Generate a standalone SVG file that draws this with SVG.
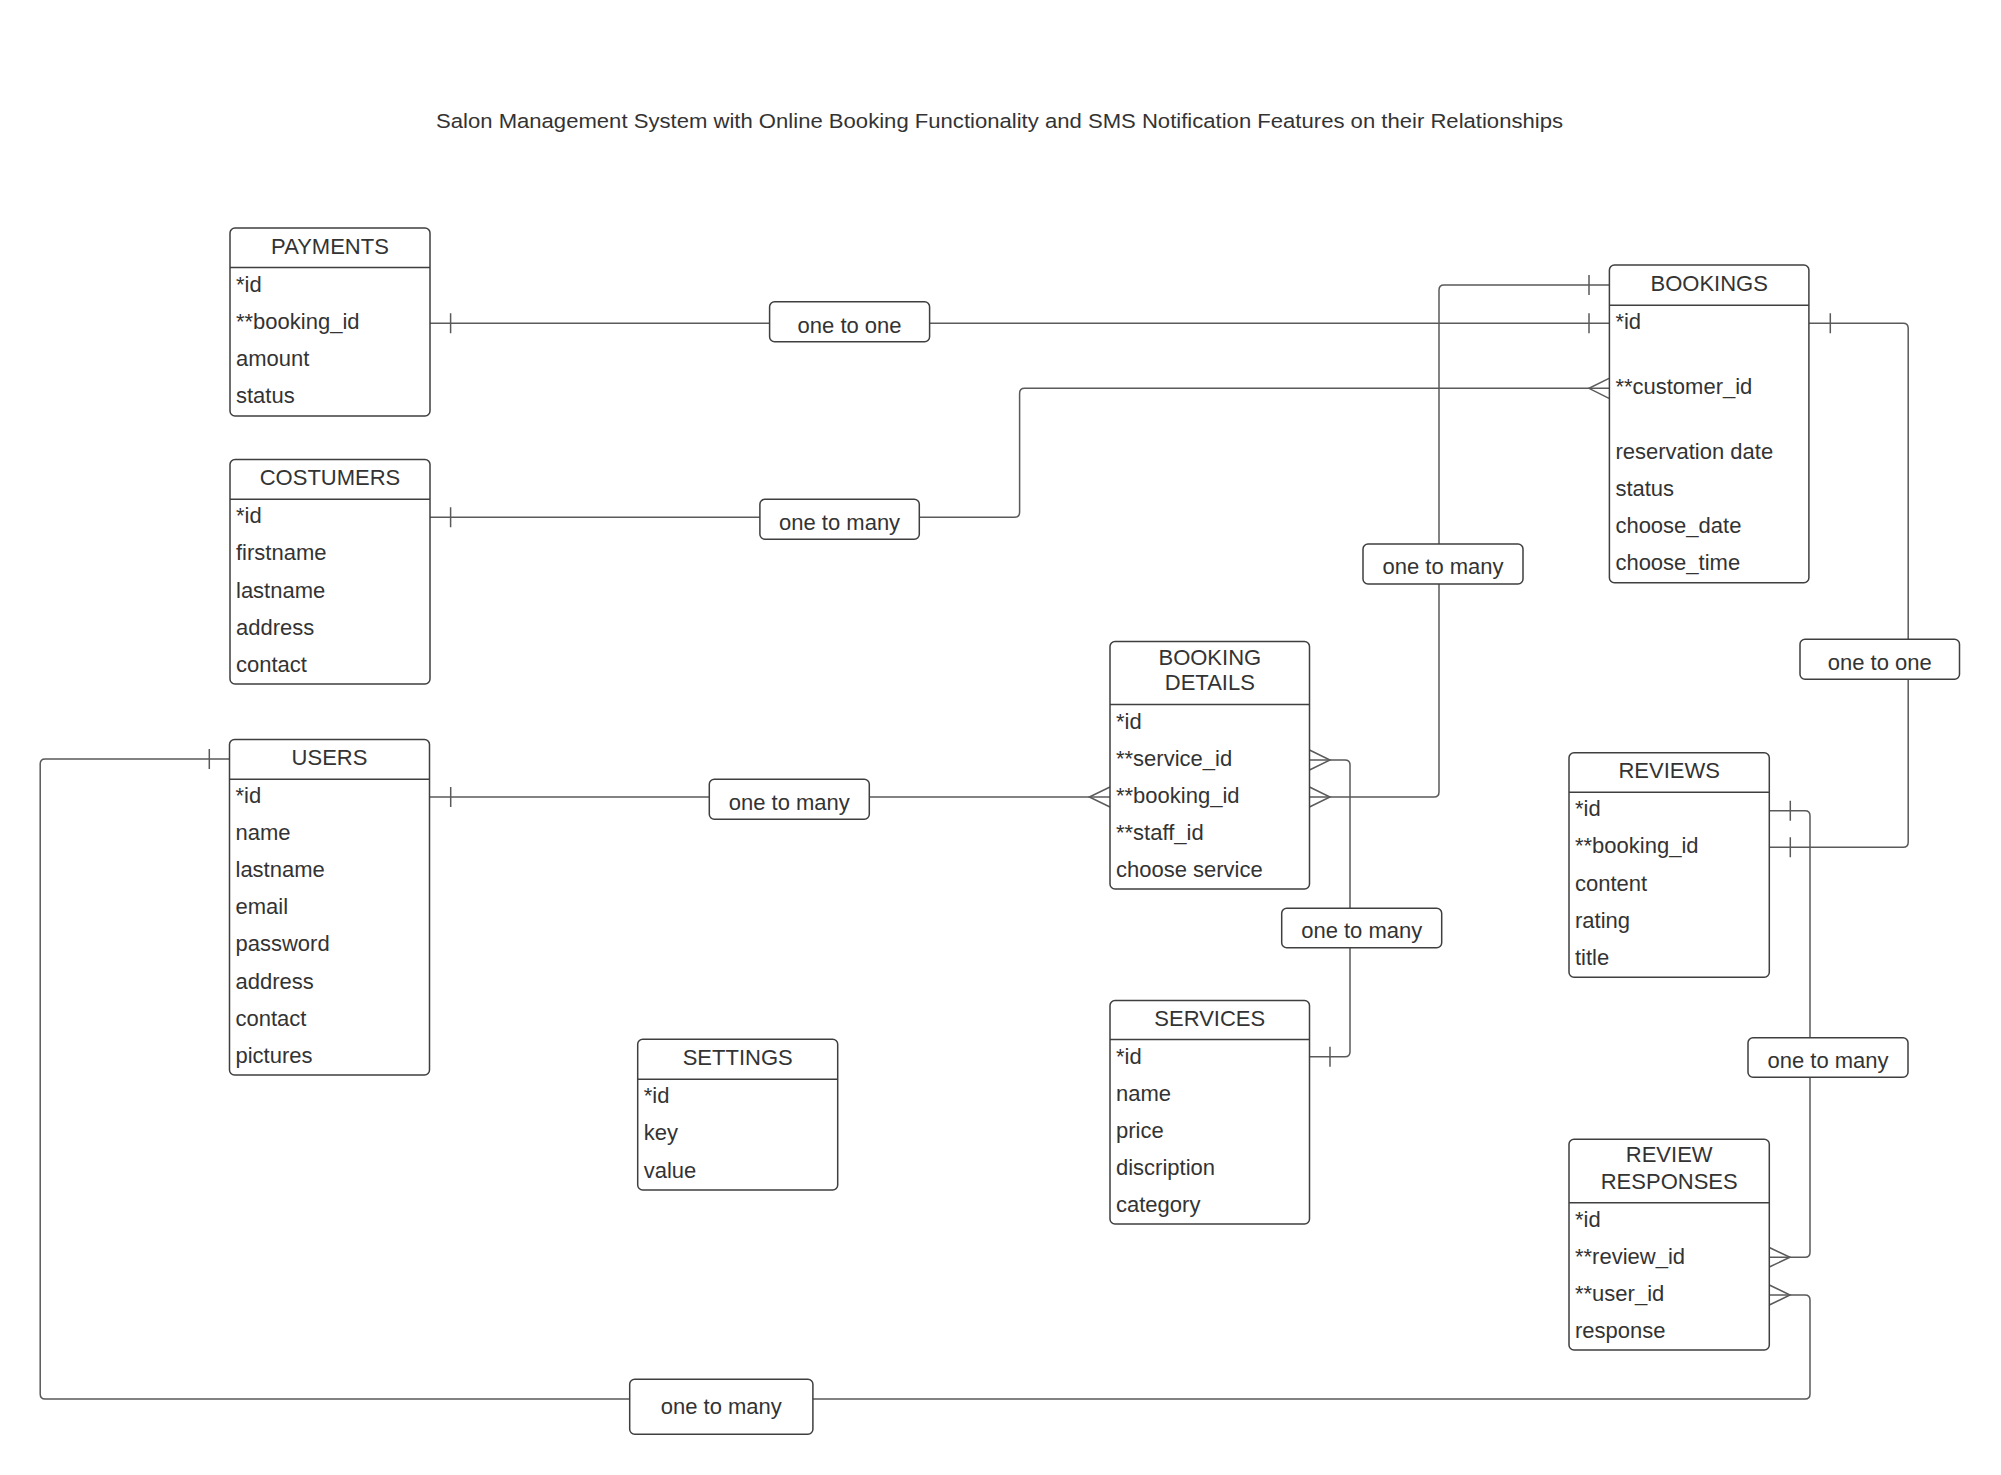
<svg xmlns="http://www.w3.org/2000/svg" width="2001" height="1475" viewBox="0 0 2001 1475">
<style>
  .bg{fill:#ffffff}
  .box{fill:#ffffff;stroke:#3f3f3f;stroke-width:1.5}
  .div{stroke:#3f3f3f;stroke-width:1.5}
  .hdr{font-family:"Liberation Sans",Arial,sans-serif;font-size:22px;fill:#333333;text-anchor:middle}
  .row{font-family:"Liberation Sans",Arial,sans-serif;font-size:22px;fill:#333333}
  .conn{fill:none;stroke:#5a5a5a;stroke-width:1.5}
  .lblbox{fill:#ffffff;stroke:#3f3f3f;stroke-width:1.5}
  .lbl{font-family:"Liberation Sans",Arial,sans-serif;font-size:22px;fill:#333333;text-anchor:middle}
  .title{font-family:"Liberation Sans",Arial,sans-serif;font-size:20.5px;fill:#333333;text-anchor:middle}
</style>
<rect class="bg" x="0" y="0" width="2001" height="1475"/>
<text class="title" x="999.5" y="127.5" textLength="1127" lengthAdjust="spacingAndGlyphs">Salon Management System with Online Booking Functionality and SMS Notification Features on their Relationships</text>

<g id="connectors">
  <!-- A: payments - bookings -->
  <path class="conn" d="M430,323.3 H1609"/>
  <path class="conn" d="M450.6,313.3 V333.3 M1589,313.3 V333.3"/>
  <!-- B: costumers - bookings -->
  <path class="conn" d="M430,517.3 H1014.6 Q1019.6,517.3 1019.6,512.3 V393.3 Q1019.6,388.3 1024.6,388.3 H1609"/>
  <path class="conn" d="M450.6,507.3 V527.3 M1609,378.3 L1589,388.3 L1609,398.3"/>
  <!-- C: users - booking details -->
  <path class="conn" d="M429.7,797 H1110"/>
  <path class="conn" d="M450.7,787 V807 M1110,787 L1089.3,797 L1110,807"/>
  <!-- D: booking details - services -->
  <path class="conn" d="M1309.5,760 H1345 Q1350,760 1350,765 V1051.7 Q1350,1056.7 1345,1056.7 H1309.5"/>
  <path class="conn" d="M1309.5,750 L1330,760 L1309.5,770 M1330,1046.7 V1066.7"/>
  <!-- E: booking details - bookings -->
  <path class="conn" d="M1309.5,797 H1434 Q1439,797 1439,792 V290 Q1439,285 1444,285 H1609"/>
  <path class="conn" d="M1309.5,787 L1330,797 L1309.5,807 M1589,275 V295"/>
  <!-- F: bookings - reviews -->
  <path class="conn" d="M1809,323.3 H1903.2 Q1908.2,323.3 1908.2,328.3 V842.3 Q1908.2,847.3 1903.2,847.3 H1769.3"/>
  <path class="conn" d="M1830.3,313.3 V333.3 M1790.3,837.3 V857.3"/>
  <!-- G: reviews - review responses -->
  <path class="conn" d="M1769.3,810.7 H1805 Q1810,810.7 1810,815.7 V1252.3 Q1810,1257.3 1805,1257.3 H1769.3"/>
  <path class="conn" d="M1790.3,800.7 V820.7 M1769.3,1247.5 L1790,1257.3 L1769.3,1267"/>
  <!-- H: users - review responses -->
  <path class="conn" d="M229.5,759 H45.2 Q40.2,759 40.2,764 V1394 Q40.2,1399 45.2,1399 H1805 Q1810,1399 1810,1394 V1300 Q1810,1295 1805,1295 H1769.3"/>
  <path class="conn" d="M209.3,749 V769 M1769.3,1285 L1790,1295 L1769.3,1305"/>

  <!-- labels -->
  <rect class="lblbox" x="769.6" y="301.7" width="160" height="40" rx="5"/>
  <text class="lbl" x="849.6" y="332.5">one to one</text>
  <rect class="lblbox" x="759.9" y="499.3" width="159.4" height="40" rx="5"/>
  <text class="lbl" x="839.6" y="529.5">one to many</text>
  <rect class="lblbox" x="709.3" y="779.3" width="160" height="40" rx="5"/>
  <text class="lbl" x="789.3" y="809.5">one to many</text>
  <rect class="lblbox" x="1281.7" y="908.2" width="160" height="39.6" rx="5"/>
  <text class="lbl" x="1361.7" y="938.3">one to many</text>
  <rect class="lblbox" x="1363" y="544" width="160" height="40" rx="5"/>
  <text class="lbl" x="1443" y="574">one to many</text>
  <rect class="lblbox" x="1800" y="639.3" width="159.5" height="40" rx="5"/>
  <text class="lbl" x="1879.7" y="670">one to one</text>
  <rect class="lblbox" x="1748" y="1037.7" width="160" height="39.6" rx="5"/>
  <text class="lbl" x="1828" y="1067.8">one to many</text>
  <rect class="lblbox" x="629.7" y="1379.3" width="183.2" height="55" rx="5"/>
  <text class="lbl" x="721.3" y="1414">one to many</text>
</g>

<g id="payments">
  <rect class="box" x="230" y="228" width="200" height="188" rx="5"/>
  <line class="div" x1="230" y1="267.5" x2="430" y2="267.5"/>
  <text class="hdr" x="330" y="253.5">PAYMENTS</text>
  <text class="row" x="236" y="291.5">*id</text>
  <text class="row" x="236" y="328.6">**booking_id</text>
  <text class="row" x="236" y="365.7">amount</text>
  <text class="row" x="236" y="402.8">status</text>
</g>

<g id="costumers">
  <rect class="box" x="230" y="459.5" width="200" height="224.5" rx="5"/>
  <line class="div" x1="230" y1="499.3" x2="430" y2="499.3"/>
  <text class="hdr" x="330" y="485">COSTUMERS</text>
  <text class="row" x="236" y="523.3">*id</text>
  <text class="row" x="236" y="560.4">firstname</text>
  <text class="row" x="236" y="597.5">lastname</text>
  <text class="row" x="236" y="634.6">address</text>
  <text class="row" x="236" y="671.7">contact</text>
</g>

<g id="users">
  <rect class="box" x="229.5" y="739.5" width="200" height="335.5" rx="5"/>
  <line class="div" x1="229.5" y1="779.3" x2="429.5" y2="779.3"/>
  <text class="hdr" x="329.5" y="765">USERS</text>
  <text class="row" x="235.5" y="803">*id</text>
  <text class="row" x="235.5" y="840.1">name</text>
  <text class="row" x="235.5" y="877.2">lastname</text>
  <text class="row" x="235.5" y="914.3">email</text>
  <text class="row" x="235.5" y="951.4">password</text>
  <text class="row" x="235.5" y="988.5">address</text>
  <text class="row" x="235.5" y="1025.6">contact</text>
  <text class="row" x="235.5" y="1062.7">pictures</text>
</g>

<g id="settings">
  <rect class="box" x="637.7" y="1039.3" width="200" height="150.7" rx="5"/>
  <line class="div" x1="637.7" y1="1079.3" x2="837.7" y2="1079.3"/>
  <text class="hdr" x="737.7" y="1064.5">SETTINGS</text>
  <text class="row" x="643.7" y="1103.3">*id</text>
  <text class="row" x="643.7" y="1140.4">key</text>
  <text class="row" x="643.7" y="1177.5">value</text>
</g>

<g id="booking-details">
  <rect class="box" x="1110" y="641.5" width="199.5" height="247.5" rx="5"/>
  <line class="div" x1="1110" y1="704.6" x2="1309.5" y2="704.6"/>
  <text class="hdr" x="1209.8" y="664.7">BOOKING</text>
  <text class="hdr" x="1209.8" y="690.3">DETAILS</text>
  <text class="row" x="1116" y="728.6">*id</text>
  <text class="row" x="1116" y="765.7">**service_id</text>
  <text class="row" x="1116" y="802.8">**booking_id</text>
  <text class="row" x="1116" y="839.9">**staff_id</text>
  <text class="row" x="1116" y="877">choose service</text>
</g>

<g id="services">
  <rect class="box" x="1110" y="1000.5" width="199.5" height="223.5" rx="5"/>
  <line class="div" x1="1110" y1="1039.5" x2="1309.5" y2="1039.5"/>
  <text class="hdr" x="1209.8" y="1025.5">SERVICES</text>
  <text class="row" x="1116" y="1063.5">*id</text>
  <text class="row" x="1116" y="1100.6">name</text>
  <text class="row" x="1116" y="1137.7">price</text>
  <text class="row" x="1116" y="1174.8">discription</text>
  <text class="row" x="1116" y="1211.9">category</text>
</g>

<g id="bookings">
  <rect class="box" x="1609.4" y="265" width="199.5" height="317.7" rx="5"/>
  <line class="div" x1="1609.4" y1="305.3" x2="1808.9" y2="305.3"/>
  <text class="hdr" x="1709.2" y="290.7">BOOKINGS</text>
  <text class="row" x="1615.4" y="328.5">*id</text>
  <text class="row" x="1615.4" y="394">**customer_id</text>
  <text class="row" x="1615.4" y="458.5">reservation date</text>
  <text class="row" x="1615.4" y="496.2">status</text>
  <text class="row" x="1615.4" y="532.9">choose_date</text>
  <text class="row" x="1615.4" y="569.6">choose_time</text>
</g>

<g id="reviews">
  <rect class="box" x="1569" y="752.7" width="200.3" height="224.6" rx="5"/>
  <line class="div" x1="1569" y1="792.3" x2="1769.3" y2="792.3"/>
  <text class="hdr" x="1669.2" y="778">REVIEWS</text>
  <text class="row" x="1575" y="816.3">*id</text>
  <text class="row" x="1575" y="853.4">**booking_id</text>
  <text class="row" x="1575" y="890.5">content</text>
  <text class="row" x="1575" y="927.6">rating</text>
  <text class="row" x="1575" y="964.7">title</text>
</g>

<g id="review-responses">
  <rect class="box" x="1569" y="1139.3" width="200.3" height="210.7" rx="5"/>
  <line class="div" x1="1569" y1="1202.7" x2="1769.3" y2="1202.7"/>
  <text class="hdr" x="1669.2" y="1162.2">REVIEW</text>
  <text class="hdr" x="1669.2" y="1189">RESPONSES</text>
  <text class="row" x="1575" y="1226.7">*id</text>
  <text class="row" x="1575" y="1263.8">**review_id</text>
  <text class="row" x="1575" y="1300.9">**user_id</text>
  <text class="row" x="1575" y="1338">response</text>
</g>
</svg>
